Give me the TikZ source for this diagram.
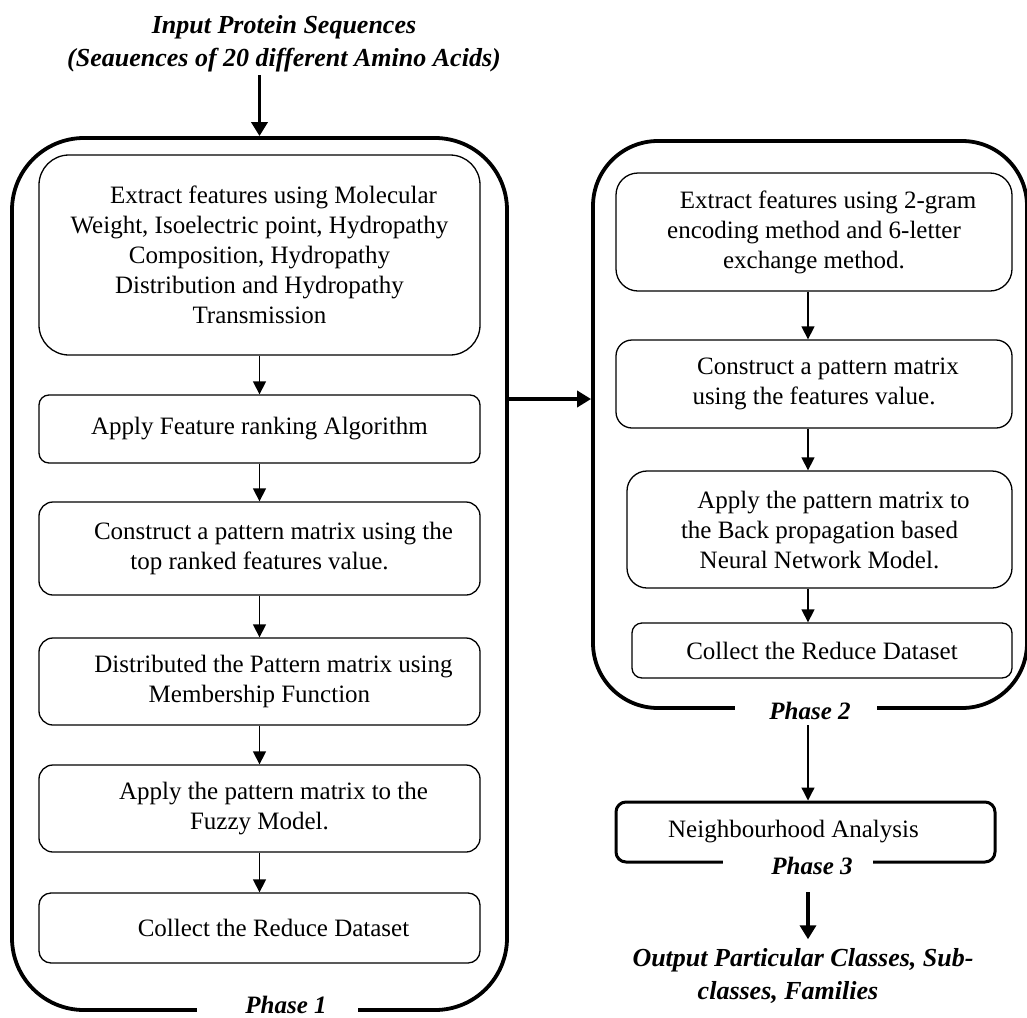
\documentclass[tikz,border=0pt]{standalone}
\usepackage{fontspec}
\setmainfont{Liberation Serif}
\usetikzlibrary{arrows.meta}
\newcommand{\labfont}{\bfseries\itshape\fontsize{25bp}{33bp}\selectfont}
\newcommand{\iofont}{\bfseries\itshape\fontsize{26bp}{33bp}\selectfont}
\tikzset{
  box/.style={draw, line width=1.3bp, align=center, inner sep=0pt,
    font=\fontsize{25bp}{30bp}\selectfont},
  outer/.style={draw, line width=3.8bp, inner sep=0pt},
  arr/.style={line width=1.3bp, -{Triangle[length=13bp,width=13bp]}},
  thickarr/.style={line width=3.5bp, -{Triangle[length=14bp,width=16bp]}},
  lab/.style={font=\labfont, fill=white, inner sep=0pt, align=center},
  plain/.style={font=\iofont, inner sep=0pt, align=center}
}
\begin{document}
\begin{tikzpicture}[x=1bp,y=-1bp]
\useasboundingbox (0,0) rectangle (1027,1018);
% outer boxes
\node[outer, rounded corners=72bp, minimum width=495bp, minimum height=872bp] (p1) at (259.5,574) {};
\node[outer, rounded corners=65bp, minimum width=434bp, minimum height=567bp] (p2) at (810,424.5) {};
\node[outer, line width=3bp, rounded corners=10bp, minimum width=379bp, minimum height=60bp, box, line width=3bp] (p3) at (805.5,832) {Neighbourhood Analysis\hspace*{24bp}};
% phase 1 boxes
\node[box, rounded corners=30bp, minimum width=441bp, minimum height=200bp] (b1) at (259.5,255)
 {\hspace*{28bp}Extract features using Molecular\\ Weight, Isoelectric point, Hydropathy\\ Composition, Hydropathy\\ Distribution and Hydropathy\\ Transmission};
\node[box, rounded corners=10bp, minimum width=441bp, minimum height=68bp] (b2) at (259.5,429)
 {Apply Feature ranking Algorithm};
\node[box, rounded corners=14bp, minimum width=441bp, minimum height=93bp] (b3) at (259.5,548.5)
 {\hspace*{28bp}Construct a pattern matrix using the\\ top ranked features value.};
\node[box, rounded corners=14bp, minimum width=441bp, minimum height=87bp] (b4) at (259.5,681.5)
 {\hspace*{28bp}Distributed the Pattern matrix using\\ Membership Function};
\node[box, rounded corners=14bp, minimum width=441bp, minimum height=87bp] (b5) at (259.5,808.5)
 {\hspace*{28bp}Apply the pattern matrix to the\\ Fuzzy Model.};
\node[box, rounded corners=12bp, minimum width=441bp, minimum height=70bp] (b6) at (259.5,928)
 {\hspace*{28bp}Collect the Reduce Dataset};
% phase 2 boxes
\node[box, rounded corners=22bp, minimum width=396bp, minimum height=118bp] (a1) at (814,232)
 {\hspace*{28bp}Extract features using 2-gram\\ encoding method and 6-letter\\ exchange method.};
\node[box, rounded corners=16bp, minimum width=396bp, minimum height=88bp] (a2) at (814,384)
 {\hspace*{28bp}Construct a pattern matrix\\ using the features value.};
\node[box, rounded corners=20bp, minimum width=385bp, minimum height=117bp] (a3) at (819.5,529.5)
 {\hspace*{28bp}Apply the pattern matrix to\\ the Back propagation based\\ Neural Network Model.};
\node[box, rounded corners=10bp, minimum width=380bp, minimum height=55bp] (a4) at (822,650.5)
 {Collect the Reduce Dataset};
% labels
\node[lab, minimum width=161bp] (ph1) at (277,1005) {\hspace*{18bp}Phase 1};
\node[lab, minimum width=142bp] (ph2) at (806,711) {\hspace*{8bp}Phase 2};
\node[lab, minimum width=150bp] (ph3) at (798,866) {\hspace*{28bp}Phase 3};
\node[plain] (in) at (284,44) {Input Protein Sequences\\ (Seauences of 20 different Amino Acids)};
\node[plain] (out) at (803,976) {Output Particular Classes, Sub-\\ classes, Families\hspace*{30bp}};
\coordinate (mid) at (550,399);
\coordinate (col) at (808,0);
% connectors
\draw[thickarr, shorten <=3bp] (in.south -| p1.north) -- (p1.north);
\draw[arr] (b1) -- (b2);
\draw[arr] (b2) -- (b3);
\draw[arr] (b3) -- (b4);
\draw[arr] (b4) -- (b5);
\draw[arr] (b5) -- (b6);
\draw[arr] (a1.south -| col) -- (a2.north -| col);
\draw[arr] (a2.south -| col) -- (a3.north -| col);
\draw[arr] (a3.south -| col) -- (a4.north -| col);
\draw[thickarr] (p1.east |- mid) -- (p2.west |- mid);
\draw[arr, shorten <=5bp] (ph2.south -| col) -- (p3.north -| col);
\draw[thickarr, shorten <=17bp, shorten >=9bp] (ph3.south -| col) -- (out.north -| col);
\end{tikzpicture}
\end{document}
